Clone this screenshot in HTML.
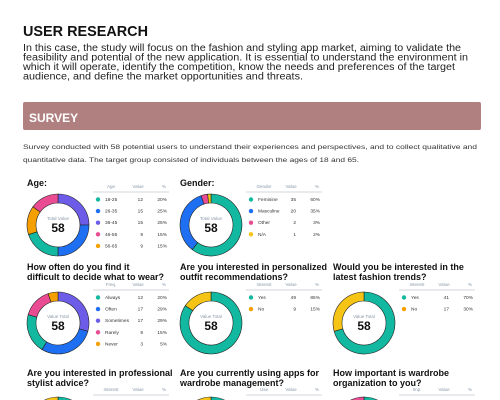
<!DOCTYPE html>
<html><head><meta charset="utf-8">
<style>
html,body{margin:0;padding:0;background:#fff;width:500px;height:400px;overflow:hidden;font-family:"Liberation Sans",sans-serif;}
svg{display:block}
svg text{font-family:"Liberation Sans",sans-serif;}
</style></head><body>
<svg id="page" width="500" height="400" viewBox="0 0 500 400" xmlns="http://www.w3.org/2000/svg">
<defs><clipPath id="frame"><rect x="0" y="0" width="500" height="400"/></clipPath></defs>
<text x="23" y="36" font-size="15" font-weight="bold" fill="#111" textLength="125" lengthAdjust="spacingAndGlyphs">USER RESEARCH</text>
<g font-size="10" fill="#222">
<text x="23" y="51" textLength="438" lengthAdjust="spacingAndGlyphs">In this case, the study will focus on the fashion and styling app market, aiming to validate the</text>
<text x="23" y="60.5" textLength="445" lengthAdjust="spacingAndGlyphs">feasibility and potential of the new application. It is essential to understand the environment in</text>
<text x="23" y="70" textLength="432" lengthAdjust="spacingAndGlyphs">which it will operate, identify the competition, know the needs and preferences of the target</text>
<text x="23" y="79.5" textLength="280" lengthAdjust="spacingAndGlyphs">audience, and define the market opportunities and threats.</text>
</g>
<rect x="23" y="102" width="458" height="28" rx="2" fill="#b08080"/>
<text x="29" y="122" font-size="12" font-weight="bold" fill="#fff">SURVEY</text>
<g font-size="6.5" fill="#333">
<text x="23" y="149" textLength="454" lengthAdjust="spacingAndGlyphs">Survey conducted with 58 potential users to understand their experiences and perspectives, and to collect qualitative and</text>
<text x="23" y="162" textLength="336" lengthAdjust="spacingAndGlyphs">quantitative data. The target group consisted of individuals between the ages of 18 and 65.</text>
</g>
<g id="charts" clip-path="url(#frame)"></g>
</svg>
<script>
const C={teal:"#12b8a0",blue:"#1f6ff2",purple:"#6c5ce7",pink:"#ea4c93",orange:"#f5a000",yellow:"#f6c414"};
const respondents=58;
const ageLabels=["18-25","26-35","36-45","46-55","56-65"];
const ageValues=[12,15,15,9,9];
const agePct=["20%","25%","25%","15%","15%"];
const genderLabels=["Feminine","Masculine","Other","N/A"];
const genderValues=[35,20,2,1];
const genderPct=["60%","35%","3%","2%"];
const freqLabels=["Always","Often","Sometimes","Rarely","Never"];
const freqValues=[12,17,17,9,3];
const freqPct=["20%","29%","29%","15%","5%"];
const recLabels=["Yes","No"];
const recValues=[49,9];
const recPct=["85%","15%"];
const trendLabels=["Yes","No"];
const trendValues=[41,17];
const trendPct=["70%","30%"];
const stylistValues=[45,13];
const appValues=[40,18];
const orgValues=[40,10,8];

const charts=[
 {name:"age",title:["Age:"],x:23,ty:186,cy:225,head:"Age",labels:ageLabels,values:ageValues,pct:agePct,colors:[C.teal,C.blue,C.purple,C.pink,C.orange],order:[2,1,0,4,3]},
 {name:"gender",title:["Gender:"],x:176,ty:186,cy:225,head:"Gender",labels:genderLabels,values:genderValues,pct:genderPct,colors:[C.teal,C.blue,C.pink,C.yellow],order:[0,1,2,3]},
 {name:"difficulty",title:["How often do you find it","difficult to decide what to wear?"],x:23,ty:270,cy:323,head:"Freq.",labels:freqLabels,values:freqValues,pct:freqPct,colors:[C.teal,C.blue,C.purple,C.pink,C.orange],order:[2,1,0,3,4],center:"Value Total"},
 {name:"recommendations",title:["Are you interested in personalized","outfit recommendations?"],x:176,ty:270,cy:323,head:"Interest",labels:recLabels,values:recValues,pct:recPct,colors:[C.teal,C.orange],segColors:[C.teal,C.yellow],order:[0,1],center:"Value Total"},
 {name:"trends",title:["Would you be interested in the","latest fashion trends?"],x:329,ty:270,cy:323,head:"Interest",labels:trendLabels,values:trendValues,pct:trendPct,colors:[C.teal,C.orange],segColors:[C.teal,C.yellow],order:[0,1],center:"Value Total"},
 {name:"stylist",title:["Are you interested in professional","stylist advice?"],x:23,ty:376,cy:428,head:"Interest",labels:["Yes","No"],values:stylistValues,pct:["",""],colors:[C.teal,C.yellow],order:[0,1]},
 {name:"apps",title:["Are you currently using apps for","wardrobe management?"],x:176,ty:376,cy:428,head:"Use",labels:["Yes","No"],values:appValues,pct:["",""],colors:[C.teal,C.yellow],order:[0,1]},
 {name:"organization",title:["How important is wardrobe","organization to you?"],x:329,ty:376,cy:428,head:"Imp.",labels:["High","Medium","Low"],values:orgValues,pct:["","",""],colors:[C.teal,C.yellow,C.pink],order:[0,1,2]}
];
const NS="http://www.w3.org/2000/svg";
const root=document.getElementById("charts");
function mk(tag,attrs,parent){const e=document.createElementNS(NS,tag);for(const k in attrs)e.setAttribute(k,attrs[k]);parent.appendChild(e);return e;}
const RO=31,RI=22;
function pt(cx,cy,r,a){return [cx+r*Math.sin(a),cy-r*Math.cos(a)];}
charts.forEach(ch=>{
 const g=mk("g",{},root);
 
 
 ch.title.forEach((t,i)=>{const tx=mk("text",{x:ch.x+4,y:ch.ty+i*10,"font-size":"9","font-weight":"bold",fill:"#111"},g);tx.textContent=t;
  
  });
 const cx=ch.x+35,cy=ch.cy;
 const total=ch.values.reduce((a,b)=>a+b,0);
 let a=0;
 const sc=ch.segColors||ch.colors;
 ch.order.forEach(i=>{
  const sweep=ch.values[i]/total*2*Math.PI;
  const a1=a+sweep,lg=sweep>Math.PI?1:0;
  const p1=pt(cx,cy,RO,a),p2=pt(cx,cy,RO,a1),p3=pt(cx,cy,RI,a1),p4=pt(cx,cy,RI,a);
  const p=mk("path",{d:`M${p1} A${RO},${RO} 0 ${lg} 1 ${p2} L${p3} A${RI},${RI} 0 ${lg} 0 ${p4}Z`,fill:sc[i],stroke:"#222","stroke-width":"0.6"},g);
  
  
  a=a1;
 });
 const ct=mk("text",{x:cx,y:cy-5,"font-size":"4.5","text-anchor":"middle",fill:"#8899aa"},g);ct.textContent=ch.center||"Total Value";
 
 
 const cv=mk("text",{x:cx,y:cy+7,"font-size":"12","font-weight":"bold","text-anchor":"middle",fill:"#111"},g);cv.textContent=respondents;
 
 
 const tx=ch.x+70,hy=cy-37;
 const hd=mk("g",{"font-size":"4.5",fill:"#8899aa"},g);
 
 
 mk("text",{x:tx+18,y:hy,"text-anchor":"middle"},hd).textContent=ch.head;
 mk("text",{x:tx+45,y:hy,"text-anchor":"middle"},hd).textContent="Value";
 mk("text",{x:tx+73,y:hy,"text-anchor":"end"},hd).textContent="%";
 mk("line",{x1:tx,x2:tx+76,y1:hy+4,y2:hy+4,stroke:"#d0d6de","stroke-width":"1"},g);
 ch.labels.forEach((l,i)=>{
  const ry=cy-24+i*11.6;
  const row=mk("g",{"font-size":"4.8",fill:"#333"},g);
  
  
  mk("circle",{cx:tx+5,cy:ry-1.5,r:2.2,fill:ch.colors[i]},row);
  mk("text",{x:tx+12,y:ry},row).textContent=l;
  mk("text",{x:tx+50,y:ry,"text-anchor":"end"},row).textContent=ch.values[i];
  mk("text",{x:tx+74,y:ry,"text-anchor":"end"},row).textContent=ch.pct[i];
 });
});
</script>
</body></html>
